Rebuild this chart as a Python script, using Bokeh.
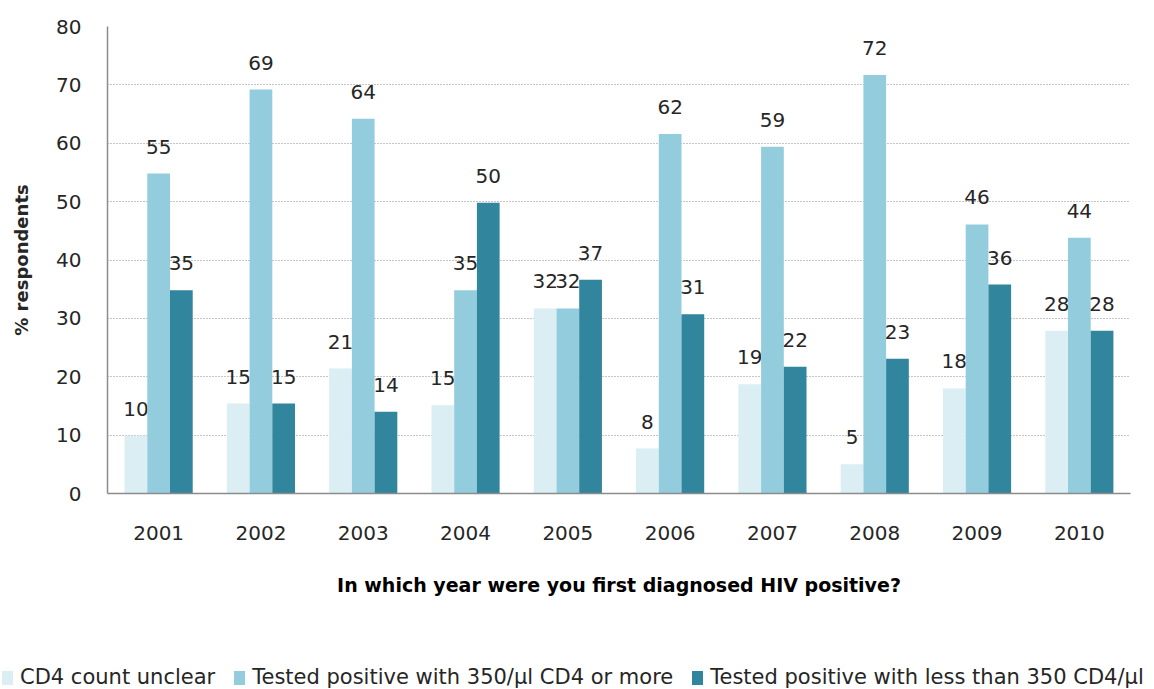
from bokeh.plotting import figure
from bokeh.layouts import column
from bokeh.models import ColumnDataSource, FactorRange, Range1d, Div
from bokeh.transform import dodge
from bokeh.core.properties import value
from bokeh.embed import file_html
from bokeh.resources import INLINE

years = ["2001", "2002", "2003", "2004", "2005", "2006", "2007", "2008", "2009", "2010"]
unclear = [9.9, 15.4, 21.4, 15.1, 31.7, 7.7, 18.7, 5.0, 18.0, 27.9]
cd4_350_or_more = [54.8, 69.2, 64.2, 34.8, 31.7, 61.6, 59.4, 71.7, 46.1, 43.8]
cd4_less_350 = [34.8, 15.4, 14.0, 49.8, 36.6, 30.7, 21.7, 23.1, 35.8, 27.9]
series_names = ["CD4 count unclear",
                "Tested positive with 350/\u00b5l CD4 or more",
                "Tested positive with less than 350 CD4/\u00b5l"]
y_ticks = [0, 10, 20, 30, 40, 50, 60, 70, 80]

FONT = "DejaVu Sans"
colors = ["#DAEEF3", "#93CDDD", "#31859C"]
TXT = "#262626"

src = ColumnDataSource(dict(
    year=years,
    s0=unclear, s1=cd4_350_or_more, s2=cd4_less_350,
    l0=[f"{v:.0f}" for v in unclear],
    l1=[f"{v:.0f}" for v in cd4_350_or_more],
    l2=[f"{v:.0f}" for v in cd4_less_350],
))

p = figure(width=1154, height=656, output_backend="svg", toolbar_location=None,
           x_range=FactorRange(*years, range_padding=0), y_range=Range1d(0, 80),
           min_border_left=107, min_border_right=24, min_border_top=26, min_border_bottom=163)
p.outline_line_color = None
p.background_fill_color = "white"
p.border_fill_color = "white"

offsets = [-0.222, 0.0, 0.222]
for i, off in enumerate(offsets):
    p.vbar(x=dodge("year", off, range=p.x_range), top=f"s{i}", width=0.222,
           source=src, fill_color=colors[i], line_color=None)
    p.text(x=dodge("year", off, range=p.x_range), y=f"s{i}", text=f"l{i}", source=src,
           text_align="center", text_baseline="alphabetic", y_offset=-27,
           text_font=value(FONT), text_font_size="20px", text_color=TXT)

# grid
p.xgrid.grid_line_color = None
p.ygrid.grid_line_color = "#8A8A8A"
p.ygrid.grid_line_dash = "1 2"
p.ygrid.grid_line_width = 1
p.yaxis.ticker = y_ticks

# y axis
p.yaxis.axis_line_color = "#8C8C8C"
p.yaxis.axis_line_width = 1.5
p.yaxis.major_tick_line_color = None
p.yaxis.minor_tick_line_color = None
p.yaxis.major_label_standoff = 20
p.yaxis.major_label_text_font = FONT
p.yaxis.major_label_text_font_size = "20px"
p.yaxis.major_label_text_color = TXT
p.yaxis.axis_label = "% respondents"
p.yaxis.axis_label_text_font = FONT
p.yaxis.axis_label_text_font_style = "bold"
p.yaxis.axis_label_text_font_size = "18px"
p.yaxis.axis_label_text_color = TXT
p.yaxis.axis_label_standoff = 21

# x axis
p.xaxis.axis_line_color = "#8C8C8C"
p.xaxis.axis_line_width = 1.5
p.xaxis.major_tick_line_color = None
p.xaxis.minor_tick_line_color = None
p.xaxis.major_label_standoff = 26
p.xaxis.major_label_text_font = FONT
p.xaxis.major_label_text_font_size = "20px"
p.xaxis.major_label_text_color = TXT
p.xaxis.axis_label = "In which year were you first diagnosed HIV positive?"
p.xaxis.axis_label_text_font = FONT
p.xaxis.axis_label_text_font_style = "bold"
p.xaxis.axis_label_text_font_size = "19px"
p.xaxis.axis_label_text_color = "#000000"
p.xaxis.axis_label_standoff = 31

# legend strip (HTML) below the chart
parts = []
for i, name in enumerate(series_names):
    ml = 2 if i == 0 else 19
    parts.append(
        f'<span style="display:inline-block;width:11px;height:14px;background:{colors[i]};'
        f'margin-left:{ml}px;margin-right:7px;vertical-align:-1px"></span>{name}')
legend_html = (f'<div style="white-space:nowrap;overflow:hidden;width:1154px;height:33px;'
               f'padding-top:9px;box-sizing:border-box;font-family:\'{FONT}\';font-size:21px;'
               f'line-height:25px;color:{TXT}">' + "".join(parts) + '</div>')
legend = Div(text=legend_html, width=1154, height=33, margin=0)

layout = column(p, legend, spacing=0)
open("out.html", "w").write(file_html(layout, INLINE))
